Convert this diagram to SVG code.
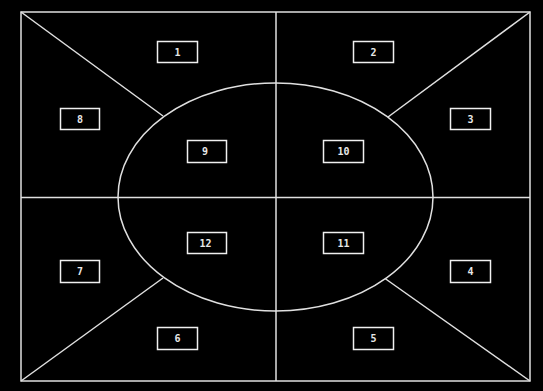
<svg xmlns="http://www.w3.org/2000/svg" width="543" height="391" viewBox="0 0 543 391">
<style>
.ln{stroke:#e0e0e0;stroke-width:1.5;fill:none}
.bx{stroke:#f0f0f0;stroke-width:1.5;fill:#000}
.t{fill:#e8e8e8;font-family:"DejaVu Sans Mono",monospace;font-size:10px;font-weight:bold;text-anchor:middle;dominant-baseline:central}
</style>
<rect x="0" y="0" width="543" height="391" fill="#000"/>
<g id="connectors">
<rect class="ln" x="21" y="12" width="509" height="369"/>
<line class="ln" x1="276" y1="12" x2="276" y2="381"/>
<line class="ln" x1="21" y1="197.5" x2="530" y2="197.5"/>
<ellipse class="ln" cx="275.5" cy="197" rx="157.5" ry="114"/>
<line class="ln" x1="21" y1="12" x2="163" y2="116"/>
<line class="ln" x1="530" y1="12" x2="388" y2="117"/>
<line class="ln" x1="21" y1="381" x2="163" y2="278"/>
<line class="ln" x1="530" y1="381" x2="385" y2="278.5"/>
</g>
<g id="n1"><rect class="bx" x="157.5" y="41.5" width="40" height="21"/><text class="t" x="177.5" y="52">1</text></g>
<g id="n2"><rect class="bx" x="353.5" y="41.5" width="40" height="21"/><text class="t" x="373.5" y="52">2</text></g>
<g id="n3"><rect class="bx" x="450.5" y="108.5" width="40" height="21"/><text class="t" x="470.5" y="119">3</text></g>
<g id="n4"><rect class="bx" x="450.5" y="260.5" width="40" height="22"/><text class="t" x="470.5" y="271.5">4</text></g>
<g id="n5"><rect class="bx" x="353.5" y="327.5" width="40" height="22"/><text class="t" x="373.5" y="338.5">5</text></g>
<g id="n6"><rect class="bx" x="157.5" y="327.5" width="40" height="22"/><text class="t" x="177.5" y="338.5">6</text></g>
<g id="n7"><rect class="bx" x="60.5" y="260.5" width="39" height="22"/><text class="t" x="80" y="271.5">7</text></g>
<g id="n8"><rect class="bx" x="60.5" y="108.5" width="39" height="21"/><text class="t" x="80" y="119">8</text></g>
<g id="n9"><rect class="bx" x="187.5" y="140.5" width="39" height="22"/><text class="t" x="205" y="151.5">9</text></g>
<g id="n10"><rect class="bx" x="323.5" y="140.5" width="40" height="22"/><text class="t" x="343.5" y="151.5">10</text></g>
<g id="n11"><rect class="bx" x="323.5" y="232.5" width="40" height="21"/><text class="t" x="343.5" y="243">11</text></g>
<g id="n12"><rect class="bx" x="187.5" y="232.5" width="39" height="21"/><text class="t" x="205.5" y="243">12</text></g>
</svg>
